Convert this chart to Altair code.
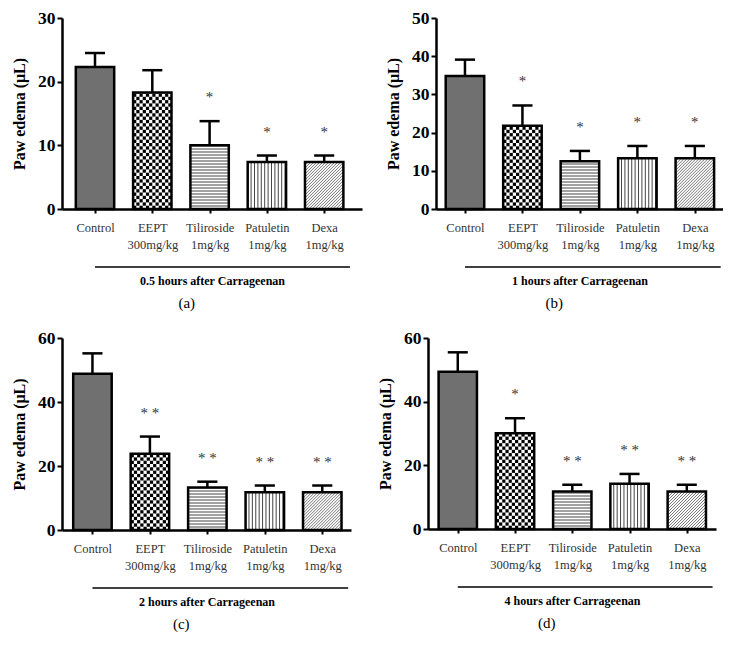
import altair as alt
import numpy as np
import pandas as pd

# ---------------- data ----------------
groups = ["Control", "EEPT", "Tiliroside", "Patuletin", "Dexa"]
doses = ["", "300mg/kg", "1mg/kg", "1mg/kg", "1mg/kg"]
hours = ["0.5", "1", "2", "4"]
tags = ["(a)", "(b)", "(c)", "(d)"]

mean_a = [22.3, 18.3, 10.0, 7.4, 7.4]
sem_a = [2.2, 3.5, 3.8, 1.0, 1.0]
star_a = ["", "", "*", "*", "*"]

mean_b = [34.8, 21.8, 12.5, 13.3, 13.3]
sem_b = [4.3, 5.3, 2.7, 3.2, 3.2]
star_b = ["", "*", "*", "*", "*"]

mean_c = [48.8, 23.8, 13.3, 11.8, 11.8]
sem_c = [6.4, 5.4, 1.8, 2.1, 2.1]
star_c = ["", "* *", "* *", "* *", "* *"]

mean_d = [49.4, 30.1, 11.8, 14.2, 11.8]
sem_d = [6.1, 4.7, 2.1, 3.1, 2.1]
star_d = ["", "*", "* *", "* *", "* *"]

y_max = [30, 50, 60, 60]
y_step = [10, 10, 20, 20]

# ---------------- layout / style ----------------
SERIF = "Liberation Serif"
widths = [300, 287, 289, 288]
heights = [191, 191, 192, 191]
x_domains = [[-0.576, 4.66], [-0.504, 4.49], [-0.53, 4.5], [-0.52, 4.51]]
HW = 0.335          # half bar width in category units
CAP = 0.175         # half error-cap width
pattern_of = {"Control": "fine", "EEPT": "checker", "Tiliroside": "hlines",
              "Patuletin": "vlines", "Dexa": "diag"}


def pattern_data(means, W, H, dom, ymax):
    ppx = W / (dom[1] - dom[0])
    ppy = H / ymax
    bw = 2 * HW * ppx
    checks, hl, vl, dg = [], [], [], []
    for i, (g, m) in enumerate(zip(groups, means)):
        left = i - HW
        hb = m * ppy
        p = pattern_of[g]
        if p == "checker":
            nc = 12
            cw = bw / nc
            s = 3.3
            nr = int(np.ceil(hb / s))
            for r in range(nr):
                for c in range(nc):
                    if (r + c) % 2 == 0:
                        checks.append(dict(x=left + c * cw / ppx, x2=left + (c + 1) * cw / ppx,
                                           y=r * s / ppy, y2=min((r + 1) * s, hb) / ppy))
        elif p == "hlines":
            k = 1
            while k * 3.0 < hb:
                hl.append(dict(x=left, x2=i + HW, y=k * 3.0 / ppy))
                k += 1
        elif p == "vlines":
            k = 1
            while k * 3.4 < bw:
                vl.append(dict(x=left + k * 3.4 / ppx, y=0.0, y2=m))
                k += 1
        elif p == "diag":
            for c in np.arange(-hb, bw, 3.0):
                u1 = max(0.0, c)
                u2 = min(bw, hb + c)
                if u2 > u1:
                    dg.append(dict(x=left + u1 / ppx, y=(u1 - c) / ppy,
                                   x2=left + u2 / ppx, y2=(u2 - c) / ppy))
    return (pd.DataFrame(checks), pd.DataFrame(hl), pd.DataFrame(vl), pd.DataFrame(dg))


label_js = "[" + ",".join(
    "[" + ",".join("'" + t + "'" for t in ([g] if d == "" else [g, d])) + "]"
    for g, d in zip(groups, doses)) + "][datum.value]"


def panel(k, means, sems, stars):
    W, H, dom, ymax, ystep = widths[k], heights[k], x_domains[k], y_max[k], y_step[k]
    df = pd.DataFrame({"i": list(range(len(groups))), "group": groups, "mean": means,
                       "upper": [m + s for m, s in zip(means, sems)], "star": stars})
    xs = alt.Scale(domain=dom, nice=False, zero=False)
    ys = alt.Scale(domain=[0, ymax], nice=False)

    xaxis = alt.Axis(values=list(range(len(groups))), labelExpr=label_js,
                     title=f"{hours[k]} hours after Carrageenan", grid=False,
                     domainColor="black", domainWidth=2.5, tickColor="black", tickWidth=2,
                     tickSize=4, labelPadding=8, labelFont=SERIF, labelFontSize=12.5,
                     labelColor="#333", labelLineHeight=17, labelBaseline="top",
                     labelOverlap=False, labelFlush=False, labelAngle=0,
                     titleFont=SERIF, titleFontSize=12, titleFontWeight="bold",
                     titleColor="black", titlePadding=25)
    yaxis = alt.Axis(values=list(range(0, ymax + 1, ystep)), title="Paw edema (μL)",
                     grid=False, domainColor="black", domainWidth=2.5, tickColor="black",
                     tickWidth=2, tickSize=5, labelPadding=2, labelFont=SERIF,
                     labelFontSize=17.5, labelFontWeight="bold", labelColor="black",
                     titleFont=SERIF, titleFontSize=16, titleFontWeight="bold",
                     titleColor="black", titlePadding=10)

    def X(f):
        return alt.X(f, scale=xs, axis=xaxis)

    def Y(f):
        return alt.Y(f, scale=ys, axis=yaxis)

    checks, hl, vl, dg = pattern_data(means, W, H, dom, ymax)
    base = alt.Chart(df)
    bars = base.transform_calculate(
        xl=f"datum.i - {HW}", xr=f"datum.i + {HW}", zero="0"
    ).mark_rect(stroke="black", strokeWidth=2.5).encode(
        x=X("xl:Q"), x2="xr:Q", y=Y("mean:Q"), y2="zero:Q",
        fill=alt.condition("datum.group == 'Control'", alt.value("#707070"),
                           alt.value("transparent")))
    layers = [
        alt.Chart(checks).mark_rect(color="black").encode(
            x=X("x:Q"), x2="x2:Q", y=Y("y:Q"), y2="y2:Q"),
        alt.Chart(hl).mark_rule(color="#444", strokeWidth=1).encode(
            x=X("x:Q"), x2="x2:Q", y=Y("y:Q")),
        alt.Chart(vl).mark_rule(color="#444", strokeWidth=1).encode(
            x=X("x:Q"), y=Y("y:Q"), y2="y2:Q"),
        alt.Chart(dg).mark_rule(color="#666", strokeWidth=0.9).encode(
            x=X("x:Q"), x2="x2:Q", y=Y("y:Q"), y2="y2:Q"),
    ]
    err = base.mark_rule(color="black", strokeWidth=2.5).encode(
        x=X("i:Q"), y=Y("mean:Q"), y2="upper:Q")
    cap = base.transform_calculate(
        cl=f"datum.i - {CAP}", cr=f"datum.i + {CAP}"
    ).mark_rule(color="black", strokeWidth=2.5).encode(
        x=X("cl:Q"), x2="cr:Q", y=Y("upper:Q"))
    star = base.transform_filter("datum.star != ''").mark_text(
        font=SERIF, fontSize=15, color="#333", baseline="middle", dy=-24
    ).encode(x=X("i:Q"), y=Y("upper:Q"), text="star:N")
    bracket = alt.Chart(pd.DataFrame({"s": [0], "e": [len(groups) - 1 + 0.45]})).mark_rule(
        color="black", strokeWidth=1.5).encode(
        x=X("s:Q"), x2="e:Q", y=alt.value(H + 58))

    return alt.layer(*layers, bars, err, cap, star, bracket).properties(
        width=W, height=H,
        title=alt.TitleParams(tags[k], orient="bottom", frame="bounds", anchor="middle",
                              font=SERIF, fontSize=15, fontWeight="normal",
                              color="black", offset=9))


pa = panel(0, mean_a, sem_a, star_a)
pb = panel(1, mean_b, sem_b, star_b)
pc = panel(2, mean_c, sem_c, star_c)
pd_ = panel(3, mean_d, sem_d, star_d)

chart = alt.vconcat(
    alt.hconcat(pa, pb, spacing=23),
    alt.hconcat(pc, pd_, spacing=26),
    spacing=18,
).properties(
    padding={"left": 3, "top": 1, "right": 0, "bottom": 0}
).configure_view(stroke=None)

chart.save("out.html", embed_options={"renderer": "svg", "actions": False})
